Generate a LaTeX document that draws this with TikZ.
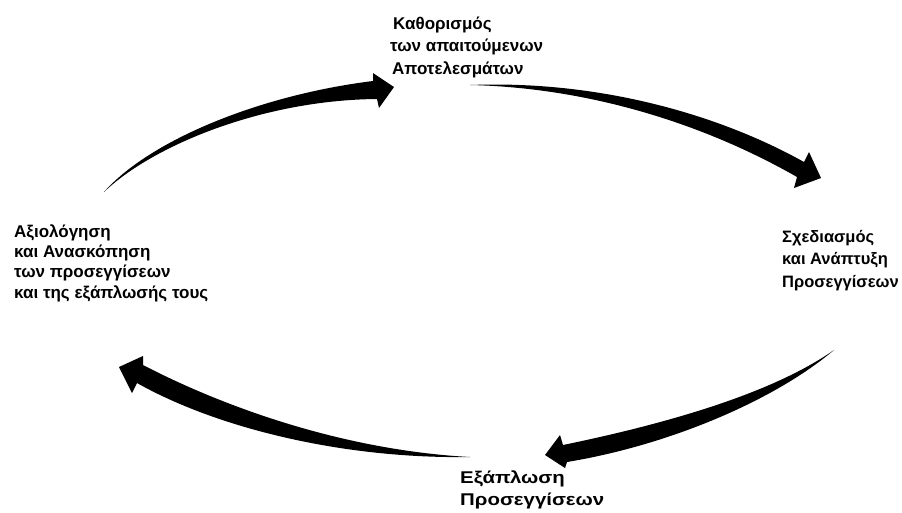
\documentclass[tikz,border=0pt]{standalone}
\usepackage{fontspec}
\setmainfont{Liberation Sans}
\newfontfamily\wideface{Liberation Sans}[FakeStretch=1.2]
\begin{document}
\begin{tikzpicture}[x=1pt,y=-1pt,
  lbl/.style={font=\bfseries\fontsize{17}{22.5}\selectfont, align=left, inner sep=0pt, anchor=base west},
  taper/.style={fill=black, draw=none}]
\useasboundingbox (0,0) rectangle (902,512);

% stage labels (placed by the baseline of their last line)
\node[lbl] (goals) at (390,74) {\hspace*{3pt}Καθορισμός\\των απαιτούμενων\\\hspace*{2pt}Αποτελεσμάτων};
\node[lbl, font=\bfseries\fontsize{16.5}{22.5}\selectfont] (design) at (782,287) {Σχεδιασμός\\και Ανάπτυξη\\Προσεγγίσεων};
\node[lbl, font=\wideface\bfseries\fontsize{17}{22}\selectfont] (spread) at (460,505) {Εξάπλωση\\Προσεγγίσεων};
\node[lbl, font=\bfseries\fontsize{17}{20.3}\selectfont] (review) at (14,298) {Αξιολόγηση\\και Ανασκόπηση\\των προσεγγίσεων\\και της εξάπλωσής τους};

% tapered curved arrows of the cycle
\coordinate (t1) at (104,192); \coordinate (h1) at (394,87);
\fill[taper] (t1) .. controls (150,140) and (260,95) .. (373,81)
  -- (373,73) -- (h1) -- (379,108) -- (377,99)
  .. controls (262,100) and (152,146) .. (t1) -- cycle;

\coordinate (t2) at (470,85); \coordinate (h2) at (821,178);
\fill[taper] (t2) .. controls (600,80) and (720,115) .. (804,162)
  -- (809,152) -- (h2) -- (794,188) -- (797,177)
  .. controls (715,130) and (600,88) .. (t2) -- cycle;

\coordinate (t3) at (834,350); \coordinate (h3) at (545,455);
\fill[taper] (t3) .. controls (770,395) and (660,425) .. (563,445)
  -- (560,435) -- (h3) -- (565,468) -- (567,462)
  .. controls (670,445) and (775,400) .. (t3) -- cycle;

\coordinate (t4) at (470,457); \coordinate (h4) at (119,367);
\fill[taper] (t4) .. controls (340,450) and (220,405) .. (143,365)
  -- (143,356) -- (h4) -- (132,393) -- (137,383)
  .. controls (215,427) and (340,459) .. (t4) -- cycle;
\end{tikzpicture}
\end{document}
